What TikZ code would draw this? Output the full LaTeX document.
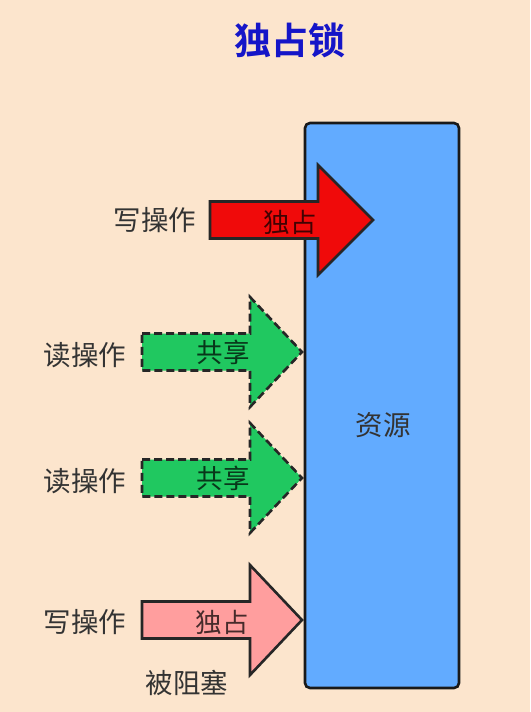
\documentclass[tikz,border=0pt]{standalone}
\usepackage{fontspec}
\newfontfamily\cjk{Noto Sans CJK SC}[BoldFont={Noto Sans CJK SC Bold}]
\usepackage{tikz}
\usetikzlibrary{positioning,calc}

\definecolor{bgpeach}{HTML}{FCE5CD}
\definecolor{resblue}{HTML}{62ABFF}
\definecolor{lockred}{HTML}{F00A0A}
\definecolor{sharegreen}{HTML}{20C860}
\definecolor{blockpink}{HTML}{FF9E9E}
\definecolor{titleblue}{HTML}{1515C8}
\definecolor{txtgray}{HTML}{333333}

% fat arrow: tail x, head base x, tip x, centre y
\newcommand{\fatarrow}[5][]{%
    \draw[#1] (#2,#5-18.5) -- (#3,#5-18.5) -- (#3,#5-55) -- (#4,#5)
        -- (#3,#5+55) -- (#3,#5+18.5) -- (#2,#5+18.5) -- cycle;}

\begin{document}
\begin{tikzpicture}[
        x=1pt, y=-1pt,
        every node/.style={font=\cjk\fontsize{27.5}{28}\selectfont, color=txtgray},
        res/.style={draw=black!90, line width=2.6pt, fill=resblue, rounded corners=5pt},
        excl/.style={draw=black!85, line width=2.6pt, line join=miter, fill=lockred},
        shared/.style={draw=black!85, line width=2.6pt, dash pattern=on 8pt off 4pt, fill=sharegreen},
        blocked/.style={draw=black!85, line width=2.6pt, line join=miter, fill=blockpink},
        intext/.style={color=black, text opacity=0.72, font=\cjk\fontsize{26.5}{27}\selectfont},
    ]
    % background
    \fill[bgpeach] (0,0) rectangle (530,712);
    \useasboundingbox (0,0) rectangle (530,712);

    % title
    \node[font=\cjk\bfseries\fontsize{37}{37}\selectfont, color=titleblue] (title) at (290,40) {独占锁};

    % resource
    \draw[res] (305,123) rectangle (459,688);
    \node (res) at (383,425) {资源};

    % write (exclusive)
    \fatarrow[excl]{210}{318}{373}{220}
    \node (op1) at (155,220) {写操作};
    \node[intext] (lk1) at (290,222) {独占};

    % reads (shared)
    \fatarrow[shared]{142}{250}{302}{352}
    \node (op2) at (85,355) {读操作};
    \node[intext] (sh1) at (223,352) {共享};

    \fatarrow[shared]{142}{250}{302}{478}
    \node (op3) at (85,481) {读操作};
    \node[intext] (sh2) at (223,478) {共享};

    % write (blocked)
    \fatarrow[blocked]{142}{250}{302}{620}
    \node (op4) at (85,622) {写操作};
    \node[intext] (lk2) at (222,622) {独占};
    \node (blk) at (187,683) {被阻塞};
\end{tikzpicture}
\end{document}
